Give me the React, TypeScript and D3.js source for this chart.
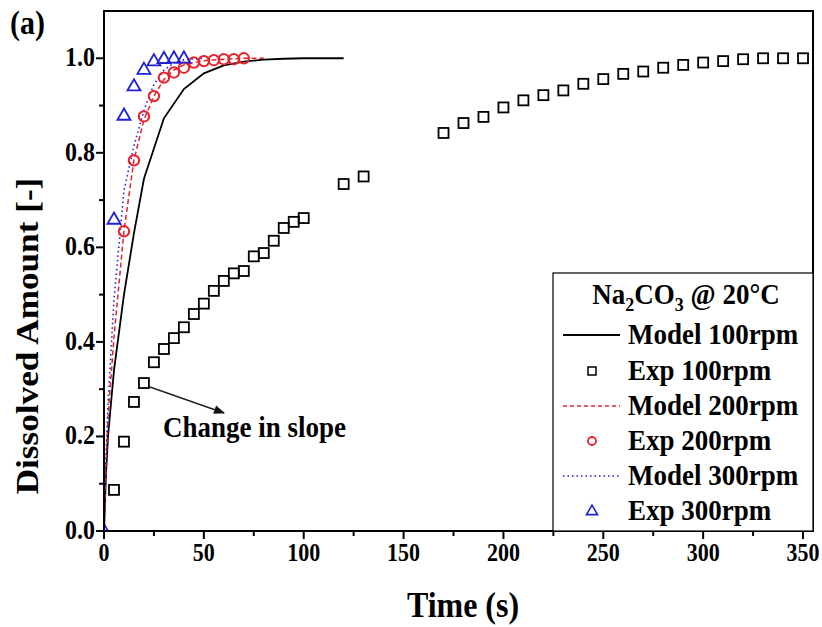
import React from "react";
import * as d3 from "d3";

const exp100T = [5, 10, 15, 20, 25, 30, 35, 40, 45, 50, 55, 60, 65, 70, 75, 80, 85, 90, 95, 100, 120, 130, 170, 180, 190, 200, 210, 220, 230, 240, 250, 260, 270, 280, 290, 300, 310, 320, 330, 340, 350];
const exp100Y = [0.087, 0.189, 0.273, 0.313, 0.357, 0.385, 0.408, 0.431, 0.459, 0.481, 0.508, 0.529, 0.545, 0.55, 0.581, 0.588, 0.614, 0.641, 0.654, 0.662, 0.734, 0.75, 0.842, 0.863, 0.876, 0.896, 0.911, 0.922, 0.932, 0.946, 0.956, 0.967, 0.972, 0.98, 0.986, 0.991, 0.994, 0.998, 1.0, 1.0, 1.0];

const exp200T = [10, 15, 20, 25, 30, 35, 40, 45, 50, 55, 60, 65, 70];
const exp200Y = [0.634, 0.784, 0.877, 0.92, 0.959, 0.97, 0.98, 0.991, 0.994, 0.996, 0.998, 0.998, 1.0];

const exp300T = [0, 5, 10, 15, 20, 25, 30, 35, 40];
const exp300Y = [0, 0.659, 0.879, 0.941, 0.976, 0.994, 0.999, 1.0, 1.0];

const model100T = [0, 1, 2, 5, 10, 15, 20, 30, 40, 50, 60, 70, 80, 90, 100, 110, 120];
const model100Y = [0, 0.12, 0.2, 0.34, 0.5, 0.63, 0.745, 0.873, 0.935, 0.968, 0.985, 0.993, 0.997, 0.999, 1, 1, 1];

const model200T = [0, 1, 2, 5, 10, 15, 20, 25, 30, 35, 40, 50, 60, 70, 80];
const model200Y = [0, 0.14, 0.24, 0.41, 0.635, 0.785, 0.87, 0.92, 0.955, 0.975, 0.986, 0.995, 0.998, 1, 1];

const model300T = [0, 1, 2, 5, 10, 15, 20, 25, 30, 35, 40, 50];
const model300Y = [0, 0.16, 0.27, 0.49, 0.72, 0.815, 0.89, 0.945, 0.975, 0.99, 0.997, 1];

const xTicks = [0, 50, 100, 150, 200, 250, 300, 350];
const xMinor = [25, 75, 125, 175, 225, 275, 325];
const yTicks = [0, 0.2, 0.4, 0.6, 0.8, 1.0];
const yMinor = [0.1, 0.3, 0.5, 0.7, 0.9];

const legendLabels = ["Model 100rpm", "Exp 100rpm", "Model 200rpm", "Exp 200rpm", "Model 300rpm", "Exp 300rpm"];

const FONT = "'Liberation Serif', 'Times New Roman', serif";
const SY = 1.1;

const zip = (t: number[], y: number[]) => t.map((v, i) => [v, y[i]] as [number, number]);

export default function App() {
  const L = 104, R = 813, T = 11, B = 531;
  const x = d3.scaleLinear().domain([0, 355]).range([L, R]);
  const y = d3.scaleLinear().domain([0, 1.1]).range([B, T]);
  const line = d3.line<[number, number]>().x(d => x(d[0])).y(d => y(d[1]));

  const RED = "#e8232b";
  const BLUE = "#2020d8";

  const tri = (cx: number, cy: number, s: number) => {
    const h = s * 0.866;
    return `M${cx},${cy - h * 0.62} L${cx + s / 2},${cy + h * 0.38} L${cx - s / 2},${cy + h * 0.38} Z`;
  };

  const txt = (xx: number, yy: number, s: string, size: number, anchor: string = "start", rot = 0) => (
    <text
      transform={`translate(${xx},${yy}) rotate(${rot}) scale(${rot ? SY : 1},${rot ? 1 : SY})`}
      fontFamily={FONT}
      fontWeight="bold"
      fontSize={size}
      textAnchor={anchor as any}
      fill="#000"
    >
      {s}
    </text>
  );

  const legX = 553, legY = 273;
  const rowY = [335, 371, 406, 441, 476, 511];

  return (
    <svg width={822} height={627} style={{ position: "absolute", left: 0, top: 0, background: "#fff" }}>
      <defs>
        <clipPath id="plot">
          <rect x={L} y={T} width={R - L} height={B - T} />
        </clipPath>
        <marker id="arrow" viewBox="0 0 10 10" refX="9" refY="5" markerWidth="16" markerHeight="11" markerUnits="userSpaceOnUse" orient="auto">
          <path d="M0,1 L10,5 L0,9 Z" fill="#111" />
        </marker>
      </defs>
      <rect width={822} height={627} fill="#fff" />

      {/* ticks */}
      {xTicks.map(t => (
        <line key={"xt" + t} x1={x(t)} x2={x(t)} y1={B} y2={B + 8} stroke="#000" strokeWidth={2} />
      ))}
      {xMinor.map(t => (
        <line key={"xm" + t} x1={x(t)} x2={x(t)} y1={B} y2={B + 5} stroke="#000" strokeWidth={2} />
      ))}
      {yTicks.map(t => (
        <line key={"yt" + t} x1={L - 8} x2={L} y1={y(t)} y2={y(t)} stroke="#000" strokeWidth={2} />
      ))}
      {yMinor.map(t => (
        <line key={"ym" + t} x1={L - 5} x2={L} y1={y(t)} y2={y(t)} stroke="#000" strokeWidth={2} />
      ))}
      {xTicks.map(t => (
        <g key={"xl" + t}>{txt(x(t), 561, String(t), 22, "middle")}</g>
      ))}
      {yTicks.map(t => (
        <g key={"yl" + t}>{txt(95, y(t) + 8, t.toFixed(1), 24, "end")}</g>
      ))}

      {/* model lines */}
      <g clipPath="url(#plot)">
        <path d={line(zip(model100T, model100Y)) || ""} fill="none" stroke="#000" strokeWidth={1.8} />
        <path d={line(zip(model200T, model200Y)) || ""} fill="none" stroke={RED} strokeWidth={1.5} strokeDasharray="5,3" />
        <path d={line(zip(model300T, model300Y)) || ""} fill="none" stroke={BLUE} strokeWidth={1.6} strokeDasharray="1.5,3" />

        {zip(exp100T, exp100Y).map(([t, v], i) => (
          <rect key={"s" + i} x={x(t) - 5} y={y(v) - 5} width={10} height={10} fill="none" stroke="#000" strokeWidth={1.8} />
        ))}
        {zip(exp200T, exp200Y).map(([t, v], i) => (
          <circle key={"c" + i} cx={x(t)} cy={y(v)} r={5.2} fill="none" stroke={RED} strokeWidth={2} />
        ))}
        {zip(exp300T, exp300Y).map(([t, v], i) => (
          <path key={"t" + i} d={tri(x(t), y(v), 13)} fill="none" stroke={BLUE} strokeWidth={1.8} />
        ))}
      </g>

      {/* frame */}
      <rect x={L} y={T} width={R - L} height={B - T} fill="none" stroke="#000" strokeWidth={2} />

      {/* legend */}
      <rect x={legX} y={legY} width={R - legX} height={B - legY} fill="#fff" stroke="#000" strokeWidth={1.2} />
      <text transform={`translate(686,304) scale(1,${SY})`} fontFamily={FONT} fontWeight="bold" fontSize={27} textAnchor="middle">
        Na<tspan fontSize={18} dy={6}>2</tspan><tspan dy={-6}>CO</tspan><tspan fontSize={18} dy={6}>3</tspan><tspan dy={-6}> @ 20°C</tspan>
      </text>
      {legendLabels.map((s, i) => (
        <g key={"lg" + i}>{txt(628, rowY[i] + 9, s, 27, "start")}</g>
      ))}
      <line x1={563} x2={620} y1={rowY[0]} y2={rowY[0]} stroke="#000" strokeWidth={1.8} />
      <rect x={588} y={rowY[1] - 4} width={8} height={8} fill="none" stroke="#000" strokeWidth={1.5} />
      <line x1={563} x2={620} y1={rowY[2]} y2={rowY[2]} stroke={RED} strokeWidth={1.4} strokeDasharray="4,3" />
      <circle cx={592} cy={rowY[3]} r={4} fill="none" stroke={RED} strokeWidth={1.8} />
      <line x1={563} x2={620} y1={rowY[4]} y2={rowY[4]} stroke={BLUE} strokeWidth={1.4} strokeDasharray="1.5,3" />
      <path d={tri(592, rowY[5], 11)} fill="none" stroke={BLUE} strokeWidth={1.6} />

      {/* annotation */}
      <line x1={150} y1={387} x2={224} y2={413} stroke="#222" strokeWidth={1.4} markerEnd="url(#arrow)" />
      {txt(163, 437, "Change in slope", 27, "start")}

      {/* titles */}
      {txt(10, 34, "(a)", 30, "start")}
      {txt(463, 617, "Time (s)", 32, "middle")}
      {txt(38, 336, "Dissolved Amount [-]", 32, "middle", -90)}
    </svg>
  );
}
